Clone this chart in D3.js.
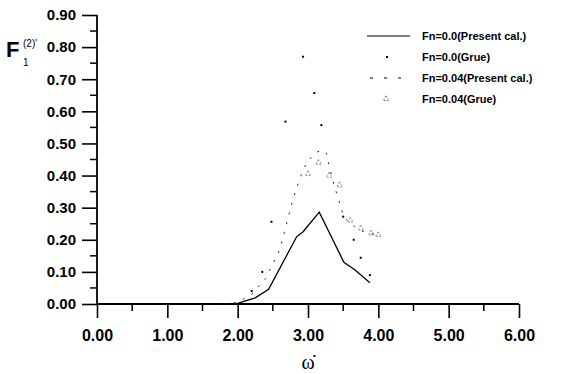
<!DOCTYPE html>
<html><head><meta charset="utf-8">
<script src="https://cdn.jsdelivr.net/npm/d3@7"></script>
<style>body{margin:0;background:#fff}svg{display:block}</style>
</head><body>
<script>
// ---- data ----
const presentFn0X = [0, 0.5, 1.0, 1.5, 2.0, 2.25, 2.44, 2.84, 2.93, 3.16, 3.51, 3.67, 3.88];
const presentFn0Y = [0, 0, 0, 0, 0.002, 0.019, 0.046, 0.21, 0.225, 0.286, 0.13, 0.106, 0.066];

const grueFn0X = [2.2, 2.35, 2.48, 2.68, 2.93, 3.09, 3.19, 3.5, 3.65, 3.75, 3.88];
const grueFn0Y = [0.04, 0.10, 0.256, 0.568, 0.77, 0.657, 0.557, 0.272, 0.2, 0.144, 0.09];

const presentFn04X = [1.8, 2.0, 2.2, 2.4, 2.6, 2.79, 2.9, 2.98, 3.1, 3.2, 3.26, 3.3, 3.37, 3.45, 3.51, 3.58, 3.69, 3.8, 3.92, 4.02];
const presentFn04Y = [0.0, 0.005, 0.03, 0.08, 0.17, 0.33, 0.40, 0.44, 0.47, 0.48, 0.47, 0.43, 0.37, 0.315, 0.27, 0.256, 0.235, 0.225, 0.218, 0.215];

const grueFn04X = [3.0, 3.15, 3.3, 3.45, 3.6, 3.75, 3.9, 4.0];
const grueFn04Y = [0.405, 0.44, 0.40, 0.37, 0.26, 0.235, 0.22, 0.215];

const xTicks = [0, 1, 2, 3, 4, 5, 6];
const yTicks = [0, 0.1, 0.2, 0.3, 0.4, 0.5, 0.6, 0.7, 0.8, 0.9];
const legendLabels = ["Fn=0.0(Present cal.)", "Fn=0.0(Grue)", "Fn=0.04(Present cal.)", "Fn=0.04(Grue)"];

// ---- chart ----
const W = 564, H = 374;
const svg = d3.select("body").append("svg").attr("width", W).attr("height", H);
const x = d3.scaleLinear().domain([0, 6]).range([97, 519]);
const y = d3.scaleLinear().domain([0, 0.9]).range([304, 15]);
const font = "Liberation Sans, Arial, sans-serif";

// minor ticks
const xMinor = d3.range(0.5, 6, 1);
svg.append("g").selectAll("line").data(xMinor).join("line")
  .attr("x1", d => x(d)).attr("x2", d => x(d)).attr("y1", 304).attr("y2", 311)
  .attr("stroke", "#000").attr("stroke-width", 1.5);
const yMinor = d3.range(0.05, 0.9, 0.1);
svg.append("g").selectAll("line").data(yMinor).join("line")
  .attr("x1", 97).attr("x2", 90).attr("y1", d => y(d)).attr("y2", d => y(d))
  .attr("stroke", "#000").attr("stroke-width", 1.5);

// axes
const xAxis = svg.append("g").attr("transform", "translate(0,304)")
  .call(d3.axisBottom(x).tickValues(xTicks).tickFormat(d3.format(".2f")).tickSize(14).tickPadding(12));
const yAxis = svg.append("g").attr("transform", "translate(97,0)")
  .call(d3.axisLeft(y).tickValues(yTicks).tickFormat(d3.format(".2f")).tickSize(15).tickPadding(6));
[xAxis, yAxis].forEach(g => {
  g.select(".domain").attr("stroke", "#000").attr("stroke-width", 1.8);
  g.selectAll(".tick line").attr("stroke", "#000").attr("stroke-width", 1.6);
  g.selectAll("text").attr("fill", "#000").attr("font-family", font).attr("font-weight", "bold");
});
xAxis.select(".domain").attr("d", "M97,0H519");
yAxis.select(".domain").attr("d", "M0,304V15");
xAxis.selectAll("text").attr("font-size", 16);
yAxis.selectAll("text").attr("font-size", 15);

// series
const line = d3.line().x(d => x(d[0])).y(d => y(d[1]));
svg.append("path").datum(d3.zip(presentFn0X, presentFn0Y)).attr("d", line)
  .attr("fill", "none").attr("stroke", "#000").attr("stroke-width", 1.3);
svg.append("path").datum(d3.zip(presentFn04X, presentFn04Y)).attr("d", line)
  .attr("fill", "none").attr("stroke", "#222").attr("stroke-width", 1).attr("stroke-dasharray", "2,8");
svg.append("g").selectAll("rect").data(d3.zip(grueFn0X, grueFn0Y)).join("rect")
  .attr("x", d => x(d[0]) - 1).attr("y", d => y(d[1]) - 1).attr("width", 2).attr("height", 2).attr("fill", "#000");
const tri = d3.symbol().type(d3.symbolTriangle).size(14);
svg.append("g").selectAll("path").data(d3.zip(grueFn04X, grueFn04Y)).join("path")
  .attr("d", tri).attr("transform", d => `translate(${x(d[0])},${y(d[1])})`)
  .attr("fill", "none").attr("stroke", "#444").attr("stroke-width", 0.7).attr("stroke-dasharray", "1.5,1.5");

// legend
const lg = svg.append("g");
const rowsY = [36, 57, 78, 99];
lg.append("line").attr("x1", 367).attr("x2", 410).attr("y1", rowsY[0]).attr("y2", rowsY[0])
  .attr("stroke", "#000").attr("stroke-width", 1.2);
lg.append("rect").attr("x", 386).attr("y", rowsY[1] - 1).attr("width", 2).attr("height", 2).attr("fill", "#000");
lg.append("line").attr("x1", 370).attr("x2", 404).attr("y1", rowsY[2]).attr("y2", rowsY[2])
  .attr("stroke", "#000").attr("stroke-width", 1.1).attr("stroke-dasharray", "3,11");
lg.append("path").attr("d", tri).attr("transform", `translate(386,${rowsY[3]})`)
  .attr("fill", "none").attr("stroke", "#444").attr("stroke-width", 0.8).attr("stroke-dasharray", "1.5,1.5");
lg.selectAll("text").data(legendLabels).join("text")
  .attr("x", 422).attr("y", (d, i) => rowsY[i] + 4)
  .attr("font-family", font).attr("font-weight", "bold").attr("font-size", 11).attr("fill", "#000")
  .text(d => d);

// axis titles
const yt = svg.append("text").attr("x", 6).attr("y", 57).attr("font-family", font).attr("fill", "#000");
yt.append("tspan").attr("font-size", 22).attr("font-weight", "bold").text("F");
yt.append("tspan").attr("font-size", 10).attr("x", 23).attr("y", 66).text("1");
yt.append("tspan").attr("font-size", 10).attr("x", 23).attr("y", 47).text("(2)'");

svg.append("text").attr("x", 308).attr("y", 369).attr("text-anchor", "middle")
  .attr("font-family", "Liberation Serif, DejaVu Serif, serif").attr("font-size", 20)
  .attr("fill", "#000").text("\u03C9\u0307");
</script>
</body></html>
